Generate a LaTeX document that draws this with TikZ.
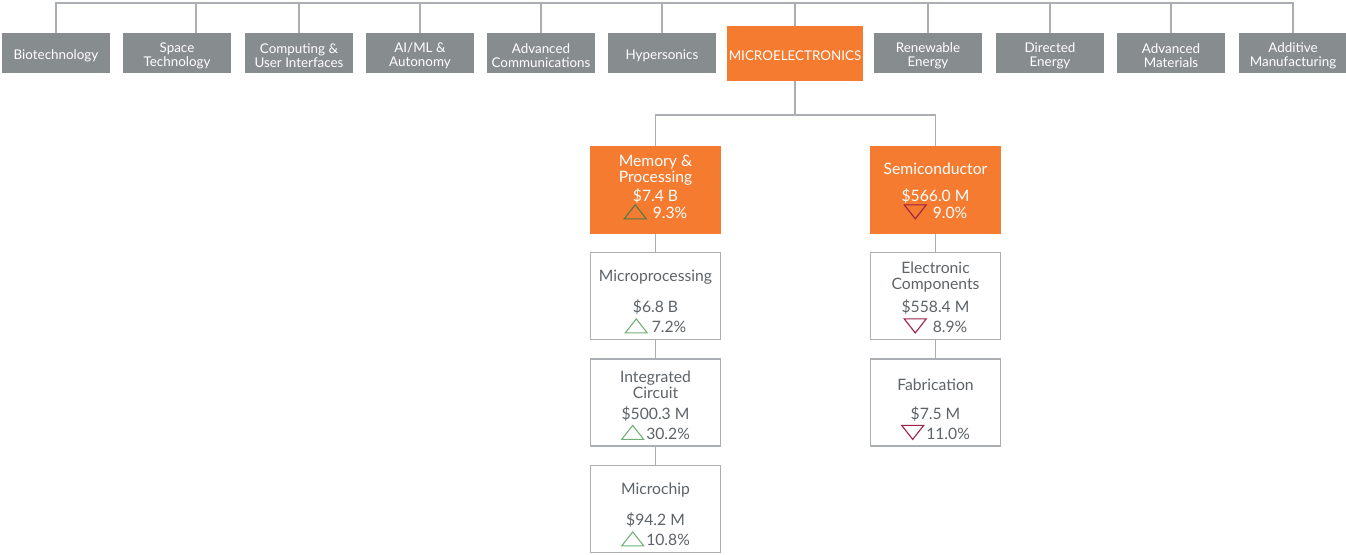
\documentclass[tikz,border=0pt]{standalone}
\usepackage{fontspec}
\setmainfont{Lato}
\usetikzlibrary{calc,positioning}
\definecolor{TopGray}{HTML}{878C8F}
\definecolor{MicroOrange}{HTML}{F47B2F}
\definecolor{WireGray}{HTML}{ABAFB3}
\definecolor{TextGray}{HTML}{5E6367}
\definecolor{UpGreen}{HTML}{72B079}
\definecolor{DeepGreen}{HTML}{4F7A4B}
\definecolor{DownRed}{HTML}{9E2147}
\newcommand{\uptri}[1]{\tikz[baseline=0pt]\draw[#1,line width=1.1pt] (0pt,0pt) -- (11pt,14pt) -- (22pt,0pt) -- cycle;}
\newcommand{\dntri}[1]{\tikz[baseline=0pt]\draw[#1,line width=1.1pt] (0pt,14pt) -- (11pt,0pt) -- (22pt,14pt) -- cycle;}

\begin{document}
\begin{tikzpicture}[
      x=1pt,
      y=-1pt,
      font=\fontsize{15.7}{16}\selectfont,
      wire/.style={draw=WireGray,line width=1.4pt},
      toptext/.style={text=white,align=center,inner sep=0pt,yshift=-2.5pt,font=\fontsize{13.4}{14}\selectfont},
      topbox/.style={fill=TopGray,minimum width=108pt,minimum height=40pt,inner sep=0pt,label={[toptext]center:#1}},
      hotbox/.style={fill=MicroOrange,minimum width=131pt,minimum height=88pt,inner sep=0pt},
      leafbox/.style={draw=WireGray,fill=white,line width=1.2pt,minimum width=130pt,minimum height=87pt,inner sep=0pt},
      hottext/.style={text=white,align=center,inner sep=0pt},
      leaftext/.style={text=TextGray,align=center,inner sep=0pt}
    ]
      \useasboundingbox (0,0) rectangle (1346,554);
      % technology areas
      \node[topbox={Biotechnology}] (bio) at (56,53) {};
      \node[topbox={Space\\Technology}] (space) at (177,53) {};
      \node[topbox={Computing \&\\User Interfaces}] (comp) at (299,53) {};
      \node[topbox={AI/ML \&\\Autonomy}] (aiml) at (420,53) {};
      \node[topbox={Advanced\\Communications}] (advcom) at (541,53) {};
      \node[topbox={Hypersonics}] (hyper) at (662,53) {};
      \node[topbox={MICROELECTRONICS},fill=MicroOrange,minimum width=136pt,minimum height=55pt] (micro) at (795,53.5) {};
      \node[topbox={Renewable\\Energy}] (renew) at (928,53) {};
      \node[topbox={Directed\\Energy}] (direct) at (1050,53) {};
      \node[topbox={Advanced\\Materials}] (advmat) at (1171,53) {};
      \node[topbox={Additive\\Manufacturing}] (additive) at (1293,53) {};
      \coordinate (bus) at (0,3);
      \draw[wire] (bio.north) -- (bio.north |- bus) -- (additive.north |- bus) -- (additive.north);
      \draw[wire] ([xshift=19pt]space.north) -- ([xshift=19pt]space.north |- bus);
      \foreach \n in {comp,aiml,advcom,hyper,micro,renew,direct,advmat}
        \draw[wire] (\n.north) -- (\n.north |- bus);
      % microelectronics breakdown
      \node[hotbox] (mem) at (655.5,190) {};
      \node[hotbox] (semi) at (935.5,190) {};
      \node[leafbox] (mproc) at (655.5,296) {};
      \node[leafbox] (integ) at (655.5,402.5) {};
      \node[leafbox] (mchip) at (655.5,509) {};
      \node[leafbox] (elec) at (935.5,296) {};
      \node[leafbox] (fab) at (935.5,402.5) {};
      \coordinate (split) at (795,115);
      \draw[wire] (micro.south) -- (split);
      \draw[wire] (mem.north) |- (split) -| (semi.north);
      \draw[wire] (mem.south) -- (mproc.north);
      \draw[wire] (mproc.south) -- (integ.north);
      \draw[wire] (integ.south) -- (mchip.north);
      \draw[wire] (semi.south) -- (elec.north);
      \draw[wire] (elec.south) -- (fab.north);
      % figures
      \node[hottext] (mem-t) at ($(mem.north)+(0,24.5)$) {Memory \&\\Processing};
      \node[hottext,anchor=base] (mem-v) at ($(mem.north)+(0,55.5)$) {\$7.4 B};
      \node[hottext,anchor=base] (mem-p) at ($(mem.north)+(0,73)$) {\uptri{DeepGreen}\hspace{6pt}9.3\%};
      \node[hottext] (semi-t) at ($(semi.north)+(0,23)$) {Semiconductor};
      \node[hottext,anchor=base] (semi-v) at ($(semi.north)+(0,55.5)$) {\$566.0 M};
      \node[hottext,anchor=base] (semi-p) at ($(semi.north)+(0,73)$) {\dntri{DownRed}\hspace{6pt}9.0\%};
      \node[leaftext] (mproc-t) at ($(mproc.north)+(0,25)$) {Microprocessing};
      \node[leaftext,anchor=base] (mproc-v) at ($(mproc.north)+(0,61)$) {\$6.8 B};
      \node[leaftext,anchor=base] (mproc-p) at ($(mproc.north)+(0,81)$) {\uptri{UpGreen}\hspace{4pt}7.2\%};
      \node[leaftext] (integ-t) at ($(integ.north)+(0,26)$) {Integrated\\Circuit};
      \node[leaftext,anchor=base] (integ-v) at ($(integ.north)+(0,61)$) {\$500.3 M};
      \node[leaftext,anchor=base] (integ-p) at ($(integ.north)+(0,81)$) {\uptri{UpGreen}\hspace{2pt}30.2\%};
      \node[leaftext] (mchip-t) at ($(mchip.north)+(0,25)$) {Microchip};
      \node[leaftext,anchor=base] (mchip-v) at ($(mchip.north)+(0,61)$) {\$94.2 M};
      \node[leaftext,anchor=base] (mchip-p) at ($(mchip.north)+(0,81)$) {\uptri{UpGreen}\hspace{2pt}10.8\%};
      \node[leaftext] (elec-t) at ($(elec.north)+(0,25)$) {Electronic\\Components};
      \node[leaftext,anchor=base] (elec-v) at ($(elec.north)+(0,61)$) {\$558.4 M};
      \node[leaftext,anchor=base] (elec-p) at ($(elec.north)+(0,81)$) {\dntri{DownRed}\hspace{6pt}8.9\%};
      \node[leaftext] (fab-t) at ($(fab.north)+(0,26)$) {Fabrication};
      \node[leaftext,anchor=base] (fab-v) at ($(fab.north)+(0,61)$) {\$7.5 M};
      \node[leaftext,anchor=base] (fab-p) at ($(fab.north)+(0,81)$) {\dntri{DownRed}\hspace{2pt}11.0\%};
    \end{tikzpicture}
\end{document}
